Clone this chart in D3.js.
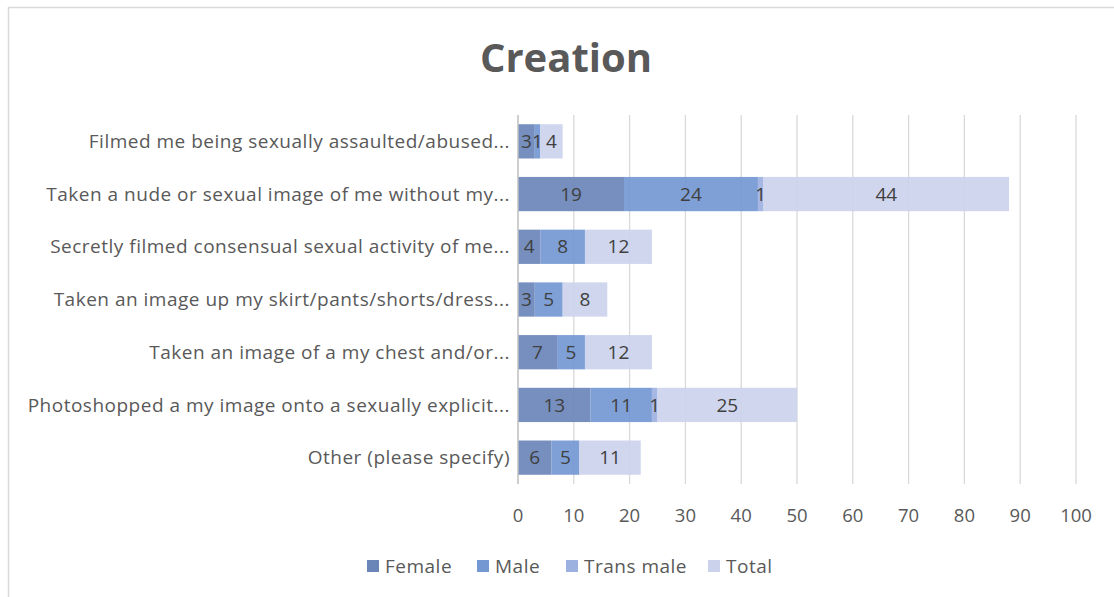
<!DOCTYPE html>
<html><head><meta charset="utf-8">
<script src="https://cdn.jsdelivr.net/npm/d3@7"></script>
<style>body{margin:0;background:#fff;} text{font-family:"Open Sans", "Noto Sans", sans-serif;}</style>
</head><body>
<svg id="c" width="1114" height="597"></svg>
<script>
const categories = [
  "Filmed me being sexually assaulted/abused...",
  "Taken a nude or sexual image of me without my...",
  "Secretly filmed consensual sexual activity of me...",
  "Taken an image up my skirt/pants/shorts/dress...",
  "Taken an image of a my chest and/or...",
  "Photoshopped a my image onto a sexually explicit...",
  "Other (please specify)"
];
const seriesNames = ["Female", "Male", "Trans male", "Total"];
const female = [3, 19, 4, 3, 7, 13, 6];
const male = [1, 24, 8, 5, 5, 11, 5];
const transMale = [0, 1, 0, 0, 0, 1, 0];
const total = [4, 44, 12, 8, 12, 25, 11];
const xTicks = [0,10,20,30,40,50,60,70,80,90,100];
const colors = ["#6a86b8", "#7498d2", "#9db1e0", "#cbd2ec"];

const svg = d3.select("#c");
svg.append("rect").attr("x",8.5).attr("y",7.5).attr("width",1200).attr("height",700)
  .attr("fill","none").attr("stroke","#d9d9d9").attr("stroke-width",1.5);

svg.append("text").attr("x",566).attr("y",72).attr("text-anchor","middle")
  .attr("font-size",40).attr("font-weight","bold").attr("fill","#595959").text("Creation");

const x = d3.scaleLinear().domain([0,100]).range([518,1076]);
const y = d3.scaleBand().domain(categories).range([115,484]).paddingInner(0.35).paddingOuter(0.175);

// gridlines
svg.append("g").selectAll("line").data(xTicks.slice(1)).join("line")
  .attr("x1",d=>x(d)).attr("x2",d=>x(d)).attr("y1",115).attr("y2",484)
  .attr("stroke","#d9d9d9").attr("stroke-width",1.3);

const data = categories.map((c,i)=>({cat:c, Female:female[i], Male:male[i], "Trans male":transMale[i], Total:total[i]}));
const stacked = d3.stack().keys(seriesNames)(data);

const g = svg.append("g");
stacked.forEach((s,si)=>{
  g.selectAll(null).data(s).join("rect")
    .attr("x",d=>x(d[0])).attr("width",d=>x(d[1])-x(d[0]))
    .attr("y",d=>y(d.data.cat)).attr("height",y.bandwidth())
    .attr("fill",colors[si]).attr("fill-opacity",0.92);
});
stacked.forEach((s,si)=>{
  g.selectAll(null).data(s.filter(d=>d[1]-d[0]>0)).join("text")
    .attr("x",d=>(x(d[0])+x(d[1]))/2).attr("y",d=>y(d.data.cat)+y.bandwidth()/2)
    .attr("dy","0.35em").attr("text-anchor","middle").attr("font-size",19).attr("fill","#404040")
    .text(d=>d[1]-d[0]);
});

// axis line
svg.append("line").attr("x1",x(0)).attr("x2",x(0)).attr("y1",115).attr("y2",484)
  .attr("stroke","#bfbfbf").attr("stroke-width",1.5);

// category labels
svg.append("g").selectAll("text").data(categories).join("text")
  .attr("x",510).attr("y",d=>y(d)+y.bandwidth()/2).attr("dy","0.35em")
  .attr("text-anchor","end").attr("font-size",19).attr("letter-spacing","0.5px")
  .attr("fill","#595959").text(d=>d);

// x tick labels
svg.append("g").selectAll("text").data(xTicks).join("text")
  .attr("x",d=>x(d)).attr("y",516).attr("dy","0.35em").attr("text-anchor","middle")
  .attr("font-size",18.5).attr("fill","#595959").text(d=>d);

// legend
const legX = [367, 477, 566, 708];
const leg = svg.append("g");
seriesNames.forEach((n,i)=>{
  leg.append("rect").attr("x",legX[i]).attr("y",560).attr("width",12).attr("height",12).attr("fill",colors[i]);
  leg.append("text").attr("x",legX[i]+18).attr("y",566).attr("dy","0.35em").attr("font-size",19)
    .attr("letter-spacing","0.5px").attr("fill","#595959").text(n);
});
</script>
</body></html>
